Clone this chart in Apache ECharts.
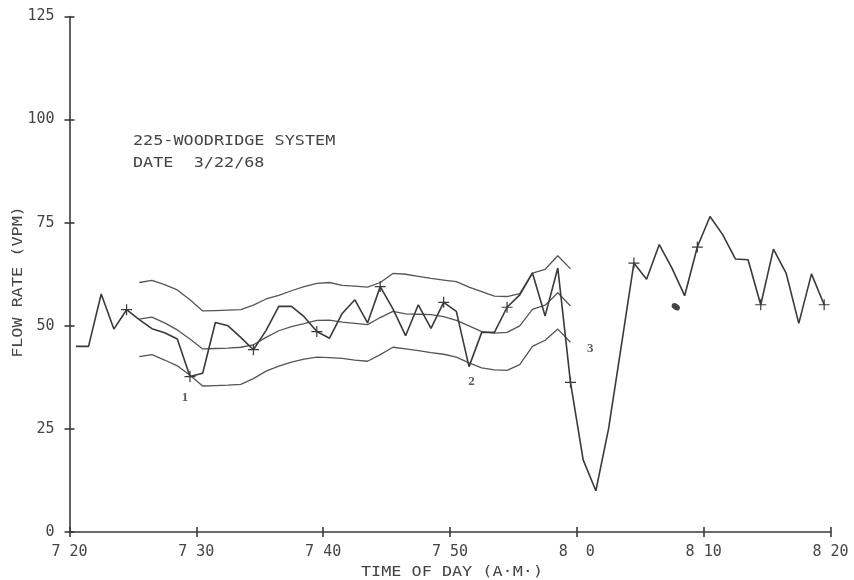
<!DOCTYPE html>
<html>
<head>
<meta charset="utf-8">
<style>
  html, body { margin: 0; padding: 0; background: #ffffff; }
  #chart { width: 854px; height: 580px; }
</style>
<script src="https://cdn.jsdelivr.net/npm/echarts@6/dist/echarts.min.js"></script>
</head>
<body>
<div id="chart"></div>
<script>
// Flow readings, one per minute, plotted at mid-minute (minutes after 7:00)
const sampleMinutes = [
  20.5, 21.5, 22.5, 23.5, 24.5, 25.5, 26.5, 27.5, 28.5, 29.5,
  30.5, 31.5, 32.5, 33.5, 34.5, 35.5, 36.5, 37.5, 38.5, 39.5,
  40.5, 41.5, 42.5, 43.5, 44.5, 45.5, 46.5, 47.5, 48.5, 49.5,
  50.5, 51.5, 52.5, 53.5, 54.5, 55.5, 56.5, 57.5, 58.5, 59.5,
  60.5, 61.5, 62.5, 63.5, 64.5, 65.5, 66.5, 67.5, 68.5, 69.5,
  70.5, 71.5, 72.5, 73.5, 74.5, 75.5, 76.5, 77.5, 78.5, 79.5
];
const flowRate = [
  45.0, 45.0, 57.7, 49.2, 53.9, 51.5, 49.3, 48.3, 46.8, 37.7,
  38.5, 50.8, 50.0, 47.2, 44.2, 48.9, 54.7, 54.7, 52.2, 48.6,
  47.0, 53.0, 56.3, 50.7, 59.5, 54.1, 47.6, 55.1, 49.4, 55.7,
  53.5, 40.1, 48.4, 48.4, 54.5, 57.5, 62.8, 52.4, 64.0, 36.3,
  17.5, 10.0, 25.0, 45.0, 65.2, 61.3, 69.7, 64.0, 57.3, 69.1,
  76.5, 72.1, 66.2, 66.0, 55.1, 68.6, 62.8, 50.6, 62.6, 55.1
];
// Readings that carry a "+" marker (every fifth minute)
const markerMinutes = [24.5, 29.5, 34.5, 39.5, 44.5, 49.5, 54.5, 59.5, 64.5, 69.5, 74.5, 79.5];

// Control band: upper limit, mean, lower limit
const bandMinutes = [
  25.5, 26.5, 27.5, 28.5, 29.5, 30.5, 31.5, 32.5, 33.5, 34.5,
  35.5, 36.5, 37.5, 38.5, 39.5, 40.5, 41.5, 42.5, 43.5, 44.5,
  45.5, 46.5, 47.5, 48.5, 49.5, 50.5, 51.5, 52.5, 53.5, 54.5,
  55.5, 56.5, 57.5, 58.5, 59.5
];
const upperBand = [
  60.5, 61.0, 60.0, 58.7, 56.3, 53.6, 53.7, 53.8, 53.9, 55.0,
  56.5, 57.4, 58.5, 59.5, 60.3, 60.5, 59.8, 59.6, 59.4, 60.5,
  62.7, 62.5, 62.0, 61.5, 61.1, 60.7, 59.4, 58.3, 57.2, 57.1,
  57.8, 62.8, 63.7, 67.0, 63.8
];
const middleBand = [
  51.6, 52.1, 50.7, 49.0, 46.8, 44.4, 44.5, 44.6, 44.8, 45.4,
  47.2, 48.8, 49.8, 50.5, 51.3, 51.4, 50.9, 50.6, 50.3, 52.0,
  53.5, 52.9, 52.8, 52.7, 52.2, 51.3, 50.0, 48.6, 48.2, 48.4,
  50.0, 54.0, 55.0, 58.0, 54.8
];
const lowerBand = [
  42.5, 43.0, 41.7, 40.3, 38.0, 35.4, 35.5, 35.6, 35.8, 37.2,
  39.0, 40.2, 41.2, 41.9, 42.4, 42.3, 42.1, 41.7, 41.4, 43.0,
  44.8, 44.4, 44.0, 43.5, 43.1, 42.4, 41.0, 39.8, 39.3, 39.2,
  40.6, 45.0, 46.5, 49.2, 46.0
];

// Numbered incident tags: [minute, value, text]
const incidentTags = [[29.1, 32.5, '1'], [51.7, 36.5, '2'], [61.05, 44.4, '3']];
// Stray ink spot on the sheet
const inkSpot = [[67.8, 54.6]];

// Axis ticks
const timeTickLabels = { 20: '7 20', 30: '7 30', 40: '7 40', 50: '7 50', 60: '8  0', 70: '8 10', 80: '8 20' };
const flowTicks = [0, 25, 50, 75, 100, 125];

const INK = '#3a3a3a';
const TEXT = '#454545';
const PLUS = 'path://M0,4.45H10V5.55H0Z M4.45,0H5.55V10H4.45Z';
const MONO = 'DejaVu Sans Mono';
const labelFont = { fontFamily: MONO, fontSize: 15, color: TEXT };
// plotter lettering is wider than a regular monospace face
const LETTER_STRETCH = 1.2;

const pair = (xs, ys) => xs.map((x, i) => [x, ys[i]]);

const flowPoints = sampleMinutes.map((m, i) => ({
  value: [m, flowRate[i]],
  symbol: markerMinutes.includes(m) ? PLUS : 'none'
}));

function plotterText(text, x, y, opts) {
  return Object.assign({
    type: 'text',
    x: x, y: y,
    scaleX: LETTER_STRETCH,
    style: Object.assign({
      text: text,
      fontFamily: MONO, fontSize: 14, fill: TEXT,
      align: 'left', verticalAlign: 'middle'
    }, (opts && opts.style) || {})
  }, (opts && opts.el) || {});
}

const chart = echarts.init(document.getElementById('chart'), null, { renderer: 'canvas' });

const axisLineStyle = { color: INK, width: 1.6 };

chart.setOption({
  animation: false,
  backgroundColor: '#ffffff',
  grid: { left: 69.5, right: 23.5, top: 16.5, bottom: 48 },
  xAxis: [
    {
      type: 'value', min: 20, max: 80, interval: 10,
      axisLine: { show: true, lineStyle: axisLineStyle },
      axisTick: { show: true, length: 5, lineStyle: axisLineStyle },
      axisLabel: Object.assign({ margin: 13, formatter: v => timeTickLabels[v] || '' }, labelFont),
      splitLine: { show: false }
    },
    {
      type: 'value', min: 20, max: 80, interval: 10, position: 'bottom',
      axisLine: { show: false },
      axisTick: { show: true, inside: true, length: 5, lineStyle: axisLineStyle },
      axisLabel: { show: false },
      splitLine: { show: false }
    }
  ],
  yAxis: [
    {
      type: 'value', min: 0, max: 125, interval: 25,
      axisLine: { show: true, lineStyle: axisLineStyle },
      axisTick: { show: true, length: 5, lineStyle: axisLineStyle },
      axisLabel: Object.assign({ margin: 15, formatter: v => flowTicks.includes(v) ? String(v) : '' }, labelFont),
      splitLine: { show: false }
    },
    {
      type: 'value', min: 0, max: 125, interval: 25, position: 'left',
      axisLine: { show: false },
      axisTick: { show: true, inside: true, length: 5, lineStyle: axisLineStyle },
      axisLabel: { show: false },
      splitLine: { show: false }
    }
  ],
  graphic: [
    plotterText('225-WOODRIDGE SYSTEM', 133, 141.7),
    plotterText('DATE  3/22/68', 133, 163),
    plotterText('TIME OF DAY (A·M·)', 452, 572, { style: { align: 'center' } }),
    plotterText('FLOW RATE (VPM)', 18, 282, { style: { align: 'center' }, el: { rotation: Math.PI / 2 } })
  ],
  series: [
    {
      name: 'upper', type: 'line', data: pair(bandMinutes, upperBand),
      symbol: 'none', lineStyle: { color: '#555', width: 1.3 }, z: 2
    },
    {
      name: 'mean', type: 'line', data: pair(bandMinutes, middleBand),
      symbol: 'none', lineStyle: { color: '#555', width: 1.3 }, z: 2
    },
    {
      name: 'lower', type: 'line', data: pair(bandMinutes, lowerBand),
      symbol: 'none', lineStyle: { color: '#555', width: 1.3 }, z: 2
    },
    {
      name: 'flow', type: 'line', data: flowPoints,
      showSymbol: true, showAllSymbol: true, symbolSize: 11,
      itemStyle: { color: INK },
      lineStyle: { color: INK, width: 1.6 }, z: 3
    },
    {
      name: 'tags', type: 'scatter', data: incidentTags.map(t => ({ value: [t[0], t[1]], name: t[2] })),
      symbolSize: 0,
      label: {
        show: true, position: 'inside', formatter: p => p.name,
        fontFamily: 'Liberation Serif', fontSize: 13, fontWeight: 'bold', color: '#333'
      },
      z: 4
    },
    {
      name: 'ink', type: 'scatter', data: inkSpot,
      symbol: 'circle', symbolSize: [9, 6], symbolRotate: -35,
      itemStyle: { color: '#151515' }, z: 4
    }
  ]
});
</script>
</body>
</html>
